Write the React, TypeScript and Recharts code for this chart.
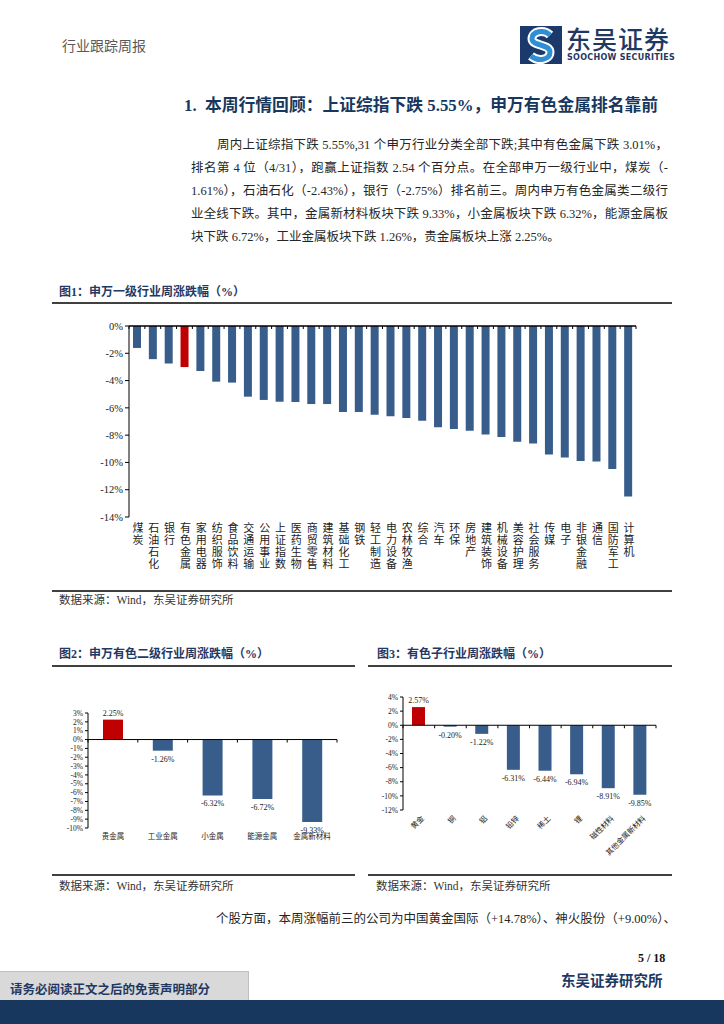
import React from 'react';
import { BarChart, Bar, XAxis, YAxis, Cell, LabelList, ReferenceLine } from 'recharts';

// 图1 申万一级行业周涨跌幅（%）
const industryNames = [
  '煤炭', '石油石化', '银行', '有色金属', '家用电器', '纺织服饰', '食品饮料', '交通运输',
  '公用事业', '上证指数', '医药生物', '商贸零售', '建筑材料', '基础化工', '钢铁', '轻工制造',
  '电力设备', '农林牧渔', '综合', '汽车', '环保', '房地产', '建筑装饰', '机械设备',
  '美容护理', '社会服务', '传媒', '电子', '非银金融', '通信', '国防军工', '计算机',
];
const industryChanges = [
  -1.61, -2.43, -2.75, -3.01, -3.3, -4.08, -4.15, -5.18,
  -5.42, -5.55, -5.57, -5.72, -5.72, -6.3, -6.3, -6.5,
  -6.62, -6.74, -6.94, -7.43, -7.55, -7.67, -7.96, -8.13,
  -8.48, -8.62, -9.41, -9.64, -9.9, -9.94, -10.48, -12.49,
];
const industryTicks = [0, -2, -4, -6, -8, -10, -12, -14];
const highlightIndustry = '有色金属';

// 图2 申万有色二级行业周涨跌幅（%）
const subIndustryNames = ['贵金属', '工业金属', '小金属', '能源金属', '金属新材料'];
const subIndustryChanges = [2.25, -1.26, -6.32, -6.72, -9.33];
const subIndustryTicks = [3, 2, 1, 0, -1, -2, -3, -4, -5, -6, -7, -8, -9, -10];

// 图3 有色子行业周涨跌幅（%）
const segmentNames = ['黄金', '铜', '铝', '铅锌', '稀土', '锂', '磁性材料', '其他金属新材料'];
const segmentChanges = [2.57, -0.2, -1.22, -6.31, -6.44, -6.94, -8.91, -9.85];
const segmentTicks = [4, 2, 0, -2, -4, -6, -8, -10, -12];

const BLUE = '#385D8A';
const RED = '#C00000';
const NAVY = '#1F3864';
const SERIF = '"Liberation Serif", "Noto Sans CJK SC", serif';

const industryData = industryNames.map((name, i) => ({ name, value: industryChanges[i] }));
const subIndustryData = subIndustryNames.map((name, i) => ({ name, value: subIndustryChanges[i] }));
const segmentData = segmentNames.map((name, i) => ({ name, value: segmentChanges[i] }));

const pct = (v: number) => `${v}%`;

function zeroLineY(top: number, height: number, max: number, min: number) {
  return top + (height * max) / (max - min);
}

function BoundaryTicks({ x, index, band, zeroY }: any) {
  const half = band / 2;
  return (
    <g>
      {index === 0 && <line x1={x - half} x2={x - half} y1={zeroY} y2={zeroY + 3} stroke="#000" />}
      <line x1={x + half} x2={x + half} y1={zeroY} y2={zeroY + 3} stroke="#000" />
    </g>
  );
}

function VerticalTick(props: any) {
  const { x, y, payload } = props;
  return (
    <g>
      <BoundaryTicks {...props} />
      <text
        x={x}
        y={y}
        fontSize={11}
        fill="#222"
        fontFamily={SERIF}
        letterSpacing={1}
        style={{ writingMode: 'vertical-rl' }}
      >
        {payload.value}
      </text>
    </g>
  );
}

function FlatTick(props: any) {
  const { x, y, payload } = props;
  return (
    <g>
      <BoundaryTicks {...props} />
      <text x={x} y={y} dy="0.71em" textAnchor="middle" fontSize={7.5} fill="#222" fontFamily={SERIF}>
        {payload.value}
      </text>
    </g>
  );
}

function SlantTick(props: any) {
  const { x, y, payload } = props;
  return (
    <g>
      <BoundaryTicks {...props} />
      <g transform={`translate(${x + 4},${y})`}>
        <text textAnchor="end" transform="rotate(-45)" dy="0.35em" fontSize={7.5} fill="#222" fontFamily={SERIF}>
          {payload.value}
        </text>
      </g>
    </g>
  );
}

function ValueLabel(props: any) {
  const vb = props.viewBox || {};
  const x = props.x ?? vb.x;
  const y = props.y ?? vb.y;
  const width = props.width ?? vb.width;
  const height = props.height ?? vb.height;
  const value = Number(props.value);
  const top = Math.min(y, y + height);
  const bottom = Math.max(y, y + height);
  const ty = value >= 0 ? top - 4 : bottom + 11;
  return (
    <text x={x + width / 2} y={ty} textAnchor="middle" fontSize={8} fill="#222" fontFamily={SERIF}>
      {`${value.toFixed(2)}%`}
    </text>
  );
}

const yTick = (size: number) => ({ fontSize: size, fill: '#222', fontFamily: SERIF });

function Text({ x, y, size, children, style }: any) {
  return (
    <div
      style={{
        position: 'absolute',
        left: x,
        top: y - size / 2,
        fontSize: size,
        lineHeight: `${size}px`,
        whiteSpace: 'nowrap',
        fontFamily: SERIF,
        ...style,
      }}
    >
      {children}
    </div>
  );
}

function Line({ x, y, w, h = 2, color = '#404040' }: any) {
  return <div style={{ position: 'absolute', left: x, top: y, width: w, height: h, background: color }} />;
}

function Justified({ x, y, w, size, children }: any) {
  return (
    <div
      style={{
        position: 'absolute',
        left: x,
        top: y - size / 2,
        width: w,
        fontSize: size,
        lineHeight: `${size}px`,
        whiteSpace: 'nowrap',
        textAlign: 'justify',
        textAlignLast: 'justify',
        fontFamily: SERIF,
        color: '#262626',
      }}
    >
      {children}
    </div>
  );
}

function Logo() {
  return (
    <svg width={42} height={38} style={{ position: 'absolute', left: 520, top: 26 }}>
      <rect x={0} y={0} width={42} height={38} fill="#1B3A6B" />
      <path d="M30 9 C24 3, 12 5, 12 13 C12 20, 30 18, 30 26 C30 34, 18 36, 11 30" fill="none" stroke="#fff" strokeWidth={9} />
      <path d="M30 9 C24 3, 12 5, 12 13 C12 20, 30 18, 30 26 C30 34, 18 36, 11 30" fill="none" stroke="#2F8FD6" strokeWidth={5} />
    </svg>
  );
}

function IndustryChart() {
  const top = 26;
  const height = 191;
  const zeroY = zeroLineY(top, height, 0, -14);
  const band = 507 / industryData.length;
  return (
    <div style={{ position: 'absolute', left: 0, top: 300 }}>
      <BarChart width={724} height={290} data={industryData} margin={{ top, right: 88, left: 69, bottom: 13 }}>
        <XAxis
          dataKey="name"
          height={60}
          axisLine={false}
          tickLine={false}
          tickSize={0}
          tickMargin={5}
          interval={0}
          tick={<VerticalTick band={band} zeroY={zeroY} />}
        />
        <YAxis
          type="number"
          domain={[-14, 0]}
          ticks={industryTicks}
          interval={0}
          width={60}
          tickFormatter={pct}
          tick={yTick(10.5)}
          tickSize={4}
          axisLine={{ stroke: '#000' }}
          tickLine={{ stroke: '#000' }}
        />
        <ReferenceLine y={0} stroke="#000" strokeWidth={1.3} />
        <Bar dataKey="value" barSize={8} isAnimationActive={false}>
          {industryData.map((d) => (
            <Cell key={d.name} fill={d.name === highlightIndustry ? RED : BLUE} />
          ))}
        </Bar>
      </BarChart>
    </div>
  );
}

function SubIndustryChart() {
  const top = 43;
  const height = 115;
  const zeroY = zeroLineY(top, height, 3, -10);
  const band = 249 / subIndustryData.length;
  return (
    <div style={{ position: 'absolute', left: 52, top: 670 }}>
      <BarChart width={303} height={200} data={subIndustryData} margin={{ top, right: 18, left: 6, bottom: 12 }}>
        <XAxis
          dataKey="name"
          height={30}
          axisLine={false}
          tickLine={false}
          tickSize={0}
          tickMargin={6}
          interval={0}
          tick={<FlatTick band={band} zeroY={zeroY} />}
        />
        <YAxis
          type="number"
          domain={[-10, 3]}
          ticks={subIndustryTicks}
          interval={0}
          width={30}
          tickFormatter={pct}
          tick={yTick(7.5)}
          tickSize={3}
          axisLine={{ stroke: '#000' }}
          tickLine={{ stroke: '#000' }}
        />
        <ReferenceLine y={0} stroke="#000" />
        <Bar dataKey="value" barSize={20} isAnimationActive={false}>
          {subIndustryData.map((d) => (
            <Cell key={d.name} fill={d.value > 0 ? RED : BLUE} />
          ))}
          <LabelList dataKey="value" content={<ValueLabel />} />
        </Bar>
      </BarChart>
    </div>
  );
}

function SegmentChart() {
  const top = 27;
  const height = 113;
  const zeroY = zeroLineY(top, height, 4, -12);
  const band = 253 / segmentData.length;
  return (
    <div style={{ position: 'absolute', left: 368, top: 670 }}>
      <BarChart width={304} height={215} data={segmentData} margin={{ top, right: 16, left: 5, bottom: 10 }}>
        <XAxis
          dataKey="name"
          height={65}
          axisLine={false}
          tickLine={false}
          tickSize={0}
          tickMargin={7}
          interval={0}
          tick={<SlantTick band={band} zeroY={zeroY} />}
        />
        <YAxis
          type="number"
          domain={[-12, 4]}
          ticks={segmentTicks}
          interval={0}
          width={30}
          tickFormatter={pct}
          tick={yTick(7.5)}
          tickSize={3}
          axisLine={{ stroke: '#000' }}
          tickLine={{ stroke: '#000' }}
        />
        <ReferenceLine y={0} stroke="#000" />
        <Bar dataKey="value" barSize={13} isAnimationActive={false}>
          {segmentData.map((d) => (
            <Cell key={d.name} fill={d.value > 0 ? RED : BLUE} />
          ))}
          <LabelList dataKey="value" content={<ValueLabel />} />
        </Bar>
      </BarChart>
    </div>
  );
}

export default function App() {
  const titleStyle = { color: NAVY, fontWeight: 700 };
  const sourceStyle = { color: '#333' };
  return (
    <div style={{ position: 'absolute', left: 0, top: 0, width: 724, height: 1024, background: '#fff', overflow: 'hidden' }}>
      <Text x={62} y={47} size={14} style={{ color: '#595959' }}>行业跟踪周报</Text>
      <Logo />
      <Text x={566} y={40} size={25} style={{ color: NAVY, fontWeight: 500, letterSpacing: 1 }}>东吴证券</Text>
      <Text x={567} y={58} size={8} style={{ color: NAVY, fontWeight: 700, fontFamily: '"DejaVu Sans", sans-serif', letterSpacing: 0.3 }}>
        SOOCHOW SECURITIES
      </Text>

      <Text x={184} y={106} size={16.8} style={{ color: '#17375E', fontWeight: 700 }}>
        1.&nbsp;&nbsp;本周行情回顾：上证综指下跌 5.55%，申万有色金属排名靠前
      </Text>

      <Justified x={217} y={145} w={451} size={12.5}>周内上证综指下跌 5.55%,31 个申万行业分类全部下跌;其中有色金属下跌 3.01%，</Justified>
      <Justified x={191} y={168} w={477} size={12.5}>排名第 4 位（4/31），跑赢上证指数 2.54 个百分点。在全部申万一级行业中，煤炭（-</Justified>
      <Justified x={191} y={191} w={477} size={12.5}>1.61%），石油石化（-2.43%），银行（-2.75%）排名前三。周内申万有色金属类二级行</Justified>
      <Justified x={191} y={214} w={477} size={12.5}>业全线下跌。其中，金属新材料板块下跌 9.33%，小金属板块下跌 6.32%，能源金属板</Justified>
      <Text x={191} y={237} size={12.5} style={{ color: '#262626' }}>块下跌 6.72%，工业金属板块下跌 1.26%，贵金属板块上涨 2.25%。</Text>

      <Text x={59} y={292} size={12} style={titleStyle}>图1：申万一级行业周涨跌幅（%）</Text>
      <Line x={52} y={302} w={620} />
      <IndustryChart />
      <Line x={52} y={590} w={620} />
      <Text x={59} y={601} size={11.5} style={sourceStyle}>数据来源：Wind，东吴证券研究所</Text>

      <Text x={59} y={654} size={12} style={titleStyle}>图2：申万有色二级行业周涨跌幅（%）</Text>
      <Line x={52} y={665} w={303} />
      <SubIndustryChart />
      <Line x={52} y={874} w={303} />
      <Text x={59} y={887} size={11.5} style={sourceStyle}>数据来源：Wind，东吴证券研究所</Text>

      <Text x={377} y={654} size={12} style={titleStyle}>图3：有色子行业周涨跌幅（%）</Text>
      <Line x={368} y={665} w={304} />
      <SegmentChart />
      <Line x={368} y={874} w={304} />
      <Text x={376} y={887} size={11.5} style={sourceStyle}>数据来源：Wind，东吴证券研究所</Text>

      <Justified x={216} y={919} w={452} size={12.5}>个股方面，本周涨幅前三的公司为中国黄金国际（+14.78%）、神火股份（+9.00%）、</Justified>

      <Text x={638} y={958} size={12} style={{ fontWeight: 700, color: '#111' }}>5 / 18</Text>
      <Text x={561} y={981} size={14.5} style={{ fontWeight: 700, color: NAVY }}>东吴证券研究所</Text>

      <div style={{ position: 'absolute', left: 0, top: 971, width: 248, height: 29, background: '#D9D9D9', borderTop: '1px solid #bfbfbf', borderRight: '1px solid #bfbfbf' }} />
      <Text x={10} y={990} size={12.5} style={{ fontWeight: 700, color: NAVY }}>请务必阅读正文之后的免责声明部分</Text>
      <div style={{ position: 'absolute', left: 0, top: 1000, width: 724, height: 24, background: '#17375E' }} />
    </div>
  );
}
